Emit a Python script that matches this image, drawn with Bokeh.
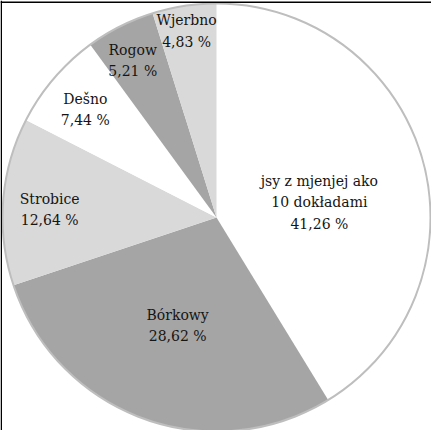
import math
from bokeh.plotting import figure
from bokeh.models import Range1d, Span, ColumnDataSource
from bokeh.core.properties import value
from bokeh.embed import file_html
from bokeh.resources import INLINE

# ---- data ----
names = ["jsy z mjenjej ako\n10 dokładami", "Bórkowy", "Strobice", "Dešno", "Rogow", "Wjerbno"]
shares = [41.26, 28.62, 12.64, 7.44, 5.21, 4.83]
colors = ["#FFFFFF", "#A5A5A5", "#D9D9D9", "#FFFFFF", "#A5A5A5", "#D9D9D9"]

# ---- styling (label placement: radius in px, angle tweak in degrees) ----
R = 214
label_r = [104, 115, 167, 170, 178, 189]
label_dang = [-7.3, 0.3, 1.6, 1.0, 1.3, 0.4]
LINE_H = 21.5

total = sum(shares)
starts, ends = [], []
lx, ly, ltext, loff = [], [], [], []
cum = 0.0
for i, (n, s) in enumerate(zip(names, shares)):
    a0 = math.pi / 2 - 2 * math.pi * cum / total
    a1 = math.pi / 2 - 2 * math.pi * (cum + s) / total
    starts.append(a0)
    ends.append(a1)
    mid = (a0 + a1) / 2 + math.radians(label_dang[i])
    cx = label_r[i] * math.cos(mid)
    cy = label_r[i] * math.sin(mid)
    lines = n.split("\n") + [f"{s:.2f}".replace(".", ",") + " %"]
    k = len(lines)
    for j, t in enumerate(lines):
        lx.append(cx)
        ly.append(cy)
        ltext.append(t)
        loff.append((j - (k - 1) / 2) * LINE_H)
    cum += s

src = ColumnDataSource(dict(start=starts, end=ends, color=colors))
lsrc = ColumnDataSource(dict(x=lx, y=ly, text=ltext, off=loff))

p = figure(width=431, height=430, output_backend="svg", toolbar_location=None,
           x_range=Range1d(-216, 215), y_range=Range1d(-213, 217),
           x_axis_location=None, y_axis_location=None, min_border=0,
           outline_line_color=None, background_fill_color="white",
           border_fill_color="white")
p.grid.visible = False

p.wedge(x=0, y=0, radius=R, start_angle="start", end_angle="end", direction="clock",
        fill_color="color", line_color=None, source=src)
p.circle(x=[0], y=[0], radius=R, fill_color=None, line_color="#BEBEBE", line_width=2)

p.text(x="x", y="y", text="text", y_offset="off", source=lsrc, text_align="center",
       text_baseline="middle", text_font=value("DejaVu Serif"),
       text_font_size="14px", text_color="#151515")

p.add_layout(Span(location=-216 + 0.75, dimension="height", line_color="black", line_width=1.5))
p.add_layout(Span(location=217 - 1.8, dimension="width", line_color="black", line_width=1.5))

open("out.html", "w").write(file_html(p, INLINE))
